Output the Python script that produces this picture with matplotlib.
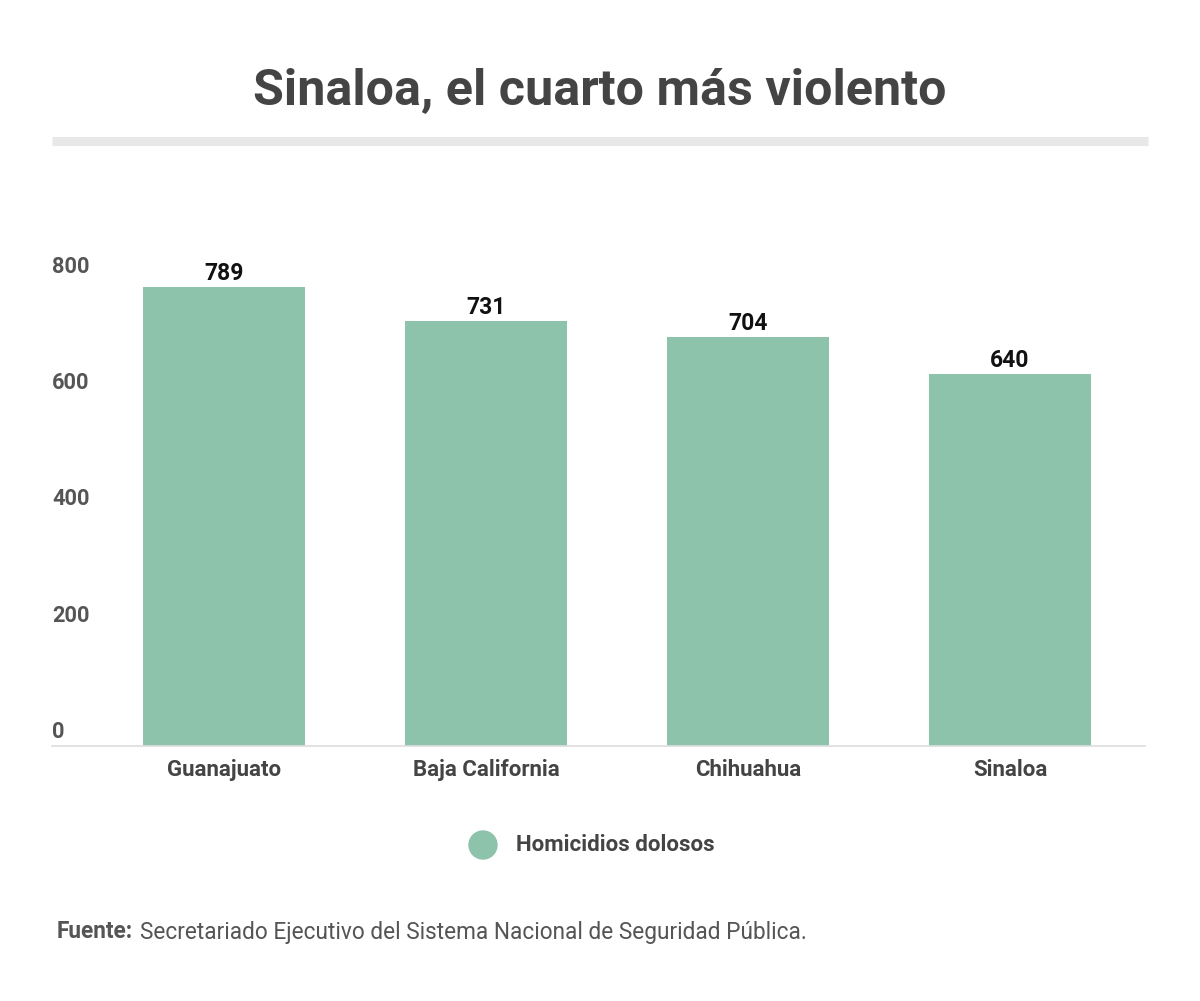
import matplotlib.pyplot as plt
import matplotlib.transforms as mtransforms
from matplotlib.patches import Ellipse
import numpy as np

plt.rcParams['font.family'] = ['Roboto', 'DejaVu Sans']

# data
estados = ['Guanajuato', 'Baja California', 'Chihuahua', 'Sinaloa']
homicidios = [789, 731, 704, 640]
yticks = [0, 200, 400, 600, 800]
serie = 'Homicidios dolosos'

bar_color = '#8dc3aa'
text_color = '#444444'

W, H = 1200, 1001
fig = plt.figure(figsize=(W / 100, H / 100), dpi=100)

# title and separator
fig.text(0.5, 1 - 91 / H, 'Sinaloa, el cuarto más violento', ha='center', va='center',
         fontsize=36.2, fontweight='bold', color=text_color)
fig.add_artist(plt.Line2D([52 / W, 1148 / W], [1 - 141 / H] * 2,
                          color='#e8e8e8', lw=6.5, solid_capstyle='butt'))

ax = fig.add_axes([52 / W, (H - 745.5) / H, 1093 / W, 476 / H])
x = np.arange(len(estados))
ax.bar(x, homicidios, width=0.618, color=bar_color, zorder=2)
ax.set_xlim(-0.656, 3.515)
ax.set_ylim(0, 820)

for s in ['top', 'right', 'left']:
    ax.spines[s].set_visible(False)
ax.spines['bottom'].set_color('#dddddd')
ax.spines['bottom'].set_linewidth(1.2)

ax.set_yticks([])
ax.set_xticks(x)
ax.set_xticklabels(estados, fontsize=16, fontweight='bold', color=text_color)
ax.tick_params(axis='x', length=0, pad=10)

# y labels sit above their level, left aligned
off = mtransforms.offset_copy(ax.get_yaxis_transform(), fig=fig, x=0, y=10, units='points')
for v in yticks:
    ax.text(0, v, str(v), transform=off, ha='left', va='center',
            fontsize=15.7, fontweight='bold', color='#555555')

for xi, v in zip(x, homicidios):
    ax.annotate(str(v), (xi, v), xytext=(0, 1.5), textcoords='offset points',
                ha='center', va='bottom', fontsize=16.5, fontweight='bold', color='#111111')

# legend
fig.add_artist(Ellipse((483 / W, 1 - 845 / H), 28 / W, 28 / H,
                       transform=fig.transFigure, color=bar_color))
fig.text(516 / W, 1 - 845 / H, serie, ha='left', va='center',
         fontsize=16, fontweight='bold', color=text_color)

# source
fig.text(57 / W, 1 - 932 / H, 'Fuente:', ha='left', va='center',
         fontsize=16.3, fontweight='bold', color='#555555')
fig.text(140 / W, 1 - 932 / H, 'Secretariado Ejecutivo del Sistema Nacional de Seguridad Pública.',
         ha='left', va='center', fontsize=16.3, color='#555555')

fig.savefig('out.png', dpi=100)
